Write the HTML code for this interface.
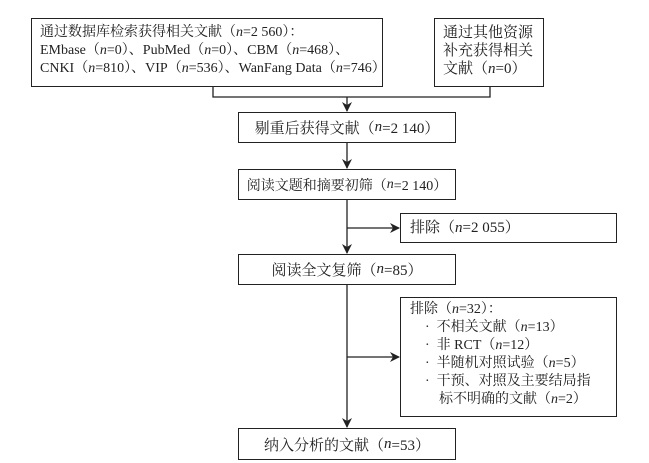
<!DOCTYPE html>
<html><head><meta charset="utf-8"><style>
body{margin:0;width:649px;height:463px;background:#fff;position:relative;overflow:hidden;font-family:"Liberation Serif","Noto Serif CJK SC",serif;color:#222;font-size:14px}
.b{position:absolute;border:1.3px solid #222;box-sizing:border-box;background:#fff}
.c{display:flex;align-items:center;justify-content:center;font-size:15px}
.t{position:absolute;line-height:18px;white-space:nowrap}
</style></head><body>
<svg width="649" height="463" style="position:absolute;left:0;top:0">
<defs><marker id="a" markerWidth="10" markerHeight="10" refX="9" refY="5" orient="auto" markerUnits="userSpaceOnUse"><path d="M0,0 L10,5 L0,10 L3,5 z" fill="#222"/></marker></defs>
<g stroke="#222" stroke-width="1.3" fill="none">
<polyline points="213,87 213,97 490,97 490,87"/>
<line x1="347" y1="97" x2="347" y2="111" marker-end="url(#a)"/>
<line x1="347" y1="143" x2="347" y2="168" marker-end="url(#a)"/>
<line x1="347" y1="200" x2="347" y2="253" marker-end="url(#a)"/>
<line x1="347" y1="228" x2="399" y2="228" marker-end="url(#a)"/>
<line x1="347" y1="285" x2="347" y2="427" marker-end="url(#a)"/>
<line x1="347" y1="357" x2="399" y2="357" marker-end="url(#a)"/>
</g></svg>
<div class="b" style="left:31px;top:18px;width:352px;height:69px"></div>
<div class="t" style="left:40px;top:24px">通过数据库检索获得相关文献（<i>n</i>=2 560）：<br>EMbase（<i>n</i>=0）、PubMed（<i>n</i>=0）、CBM（<i>n</i>=468）、<br>CNKI（<i>n</i>=810）、VIP（<i>n</i>=536）、WanFang Data（<i>n</i>=746）</div>
<div class="b" style="left:434px;top:18px;width:110px;height:69px"></div>
<div class="t" style="left:443px;top:24px;font-size:15px">通过其他资源<br>补充获得相关<br>文献（<i>n</i>=0）</div>
<div class="b c" style="left:238px;top:112px;width:218px;height:31px">剔重后获得文献（<i>n</i>=2 140）</div>
<div class="b c" style="left:238px;top:169px;width:218px;height:31px;font-size:14px">阅读文题和摘要初筛（<i>n</i>=2 140）</div>
<div class="b" style="left:400px;top:213px;width:217px;height:30px"><span class="t" style="left:9px;top:5px;font-size:15px">排除（<i>n</i>=2 055）</span></div>
<div class="b c" style="left:238px;top:254px;width:218px;height:31px">阅读全文复筛（<i>n</i>=85）</div>
<div class="b" style="left:400px;top:297px;width:217px;height:120px">
<div class="t" style="left:9px;top:3px">排除（<i>n</i>=32）：</div>
<div class="t" style="left:24px;top:21px">·&nbsp;&nbsp;不相关文献（<i>n</i>=13）<br>·&nbsp;&nbsp;非 RCT（<i>n</i>=12）<br>·&nbsp;&nbsp;半随机对照试验（<i>n</i>=5）<br>·&nbsp;&nbsp;干预、对照及主要结局指<br>&nbsp;&nbsp;&nbsp;&nbsp;标不明确的文献（<i>n</i>=2）</div>
</div>
<div class="b c" style="left:238px;top:428px;width:218px;height:32px">纳入分析的文献（<i>n</i>=53）</div>
</body></html>
